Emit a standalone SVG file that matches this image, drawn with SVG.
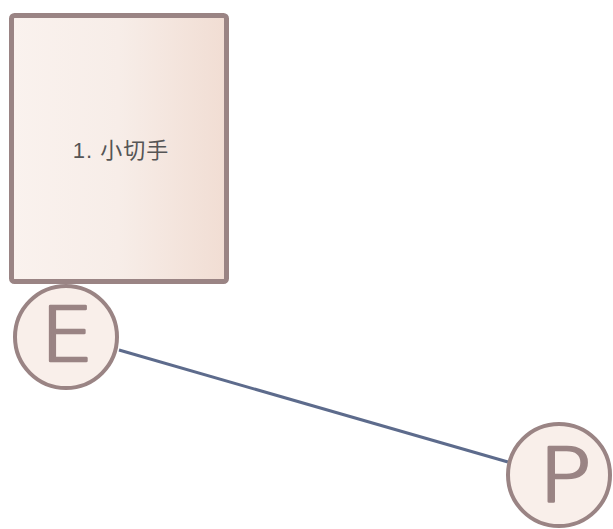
<svg xmlns="http://www.w3.org/2000/svg" width="613" height="529" viewBox="0 0 613 529">
<defs>
<linearGradient id="g" x1="0" y1="0" x2="1" y2="0">
<stop offset="0" stop-color="#faf2ee"/>
<stop offset="0.5" stop-color="#f7ede8"/>
<stop offset="1" stop-color="#f1ddd3"/>
</linearGradient>
<style>
.box{fill:url(#g);stroke:#9a8484;stroke-width:5}
.pt{fill:#f9efea;stroke:#9a8484;stroke-width:4}
.lbl{font-family:"Liberation Sans","Noto Sans CJK JP",sans-serif;font-size:22px;letter-spacing:1px;fill:#555555}
.ico{font-family:"DejaVu Sans",sans-serif;font-weight:200;font-size:74px;fill:#9a8484;stroke:#9a8484;stroke-width:2.6;stroke-linejoin:round}
.con{stroke:#5d6b8c;stroke-width:3;fill:none}
</style>
</defs>
<g id="connectors">
<line class="con" x1="119" y1="350" x2="508" y2="462"/>
</g>
<g id="node1">
<rect class="box" x="11.5" y="15.5" width="215" height="266" rx="3"/>
<text class="lbl" x="121" y="158" text-anchor="middle">1. 小切手</text>
</g>
<g id="entry">
<circle class="pt" cx="66" cy="337" r="51"/>
<text class="ico" x="0" y="361" text-anchor="middle" transform="translate(67,0) scale(1.15,1)">E</text>
</g>
<g id="exit">
<circle class="pt" cx="559" cy="475" r="51"/>
<text class="ico" x="0" y="502" text-anchor="middle" transform="translate(565,0) scale(1.2,1)">P</text>
</g>
</svg>
